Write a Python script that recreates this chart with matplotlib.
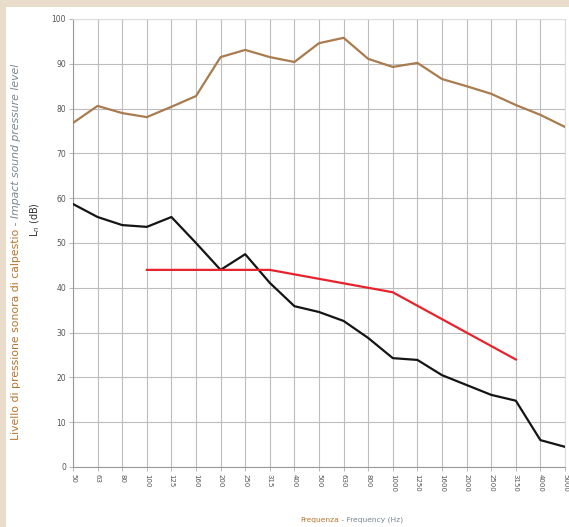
import matplotlib
matplotlib.use("Agg")
import matplotlib.pyplot as plt
from matplotlib.patches import Rectangle

freq_labels = ["50", "63", "80", "100", "125", "160", "200", "250", "315", "400", "500",
               "630", "800", "1000", "1250", "1600", "2000", "2500", "3150", "4000", "5000"]
brown_vals = [76.8, 80.6, 79.0, 78.1, 80.4, 82.8, 91.5, 93.1, 91.5, 90.4, 94.6,
              95.8, 91.1, 89.3, 90.2, 86.6, 85.0, 83.3, 80.8, 78.6, 75.9]
black_vals = [58.7, 55.8, 54.0, 53.6, 55.8, 50.0, 44.0, 47.5, 41.1, 35.9, 34.6,
              32.6, 28.8, 24.3, 23.9, 20.5, 18.3, 16.1, 14.8, 6.0, 4.5]
ref_labels = ["100", "125", "160", "200", "250", "315", "400", "500", "630", "800",
              "1000", "1250", "1600", "2000", "2500", "3150"]
ref_vals = [44, 44, 44, 44, 44, 44, 43, 42, 41, 40, 39, 36, 33, 30, 27, 24]
y_ticks = [0, 10, 20, 30, 40, 50, 60, 70, 80, 90, 100]

W, H = 569, 527
fig = plt.figure(figsize=(W / 100, H / 100), dpi=100)
fig.patch.set_facecolor("#e9dccb")
fig.patches.append(Rectangle((6 / W, 0), 1 - 6 / W, (H - 7) / H, transform=fig.transFigure,
                             facecolor="white", edgecolor="none", zorder=-10))

ax = fig.add_axes([73 / W, (H - 467) / H, 492 / W, 448 / H])
ax.set_zorder(2)
ax.set_facecolor("white")
xs = list(range(len(freq_labels)))
ref_x = [freq_labels.index(f) for f in ref_labels]

ax.plot(xs, brown_vals, color="#a97b4e", lw=1.6, zorder=3)
ax.plot(xs, black_vals, color="#151515", lw=1.6, zorder=3)
ax.plot(ref_x, ref_vals, color="#e8232b", lw=1.6, zorder=3)

ax.set_xlim(0, len(freq_labels) - 1)
ax.set_ylim(0, 100)
ax.set_xticks(xs)
ax.set_xticklabels(freq_labels, rotation=-90, fontsize=5, color="#555555")
ax.set_yticks(y_ticks)
ax.set_yticklabels([str(v) for v in y_ticks], fontsize=5.5, color="#555555")
ax.tick_params(length=3, color="#aaaaaa", width=0.6, pad=2)
ax.grid(True, color="#bdbdbd", lw=0.8, zorder=1)
ax.set_axisbelow(True)
for s in ["top", "right"]:
    ax.spines[s].set_color("#dddddd")
for s in ["left", "bottom"]:
    ax.spines[s].set_color("#9a9a9a")
    ax.spines[s].set_linewidth(0.8)

fig.canvas.draw()
r = fig.canvas.get_renderer()

# y label, two colours
t1 = fig.text(16 / W, (H - 440) / H, "Livello di pressione sonora di calpestio", rotation=90,
              ha="center", va="bottom", fontsize=7.8, color="#b8742e")
bb = t1.get_window_extent(r)
fig.text(16 / W, bb.y1 / H, " - Impact sound pressure level", rotation=90,
         ha="center", va="bottom", fontsize=7.8, color="#7a8590", style="italic")
fig.text(35 / W, (H - 220) / H, r"L$_n$ (dB)", rotation=90, ha="center", va="center",
         fontsize=7, color="#333333")

# x label, two colours
t2 = fig.text(300 / W, (H - 520) / H, "Frequenza", ha="left", va="center",
              fontsize=5.4, color="#b8742e")
bb2 = t2.get_window_extent(r)
fig.text(bb2.x1 / W, (H - 520) / H, " - Frequency (Hz)", ha="left", va="center",
         fontsize=5.4, color="#7a8590")

fig.savefig("out.png", dpi=100, facecolor=fig.get_facecolor())
